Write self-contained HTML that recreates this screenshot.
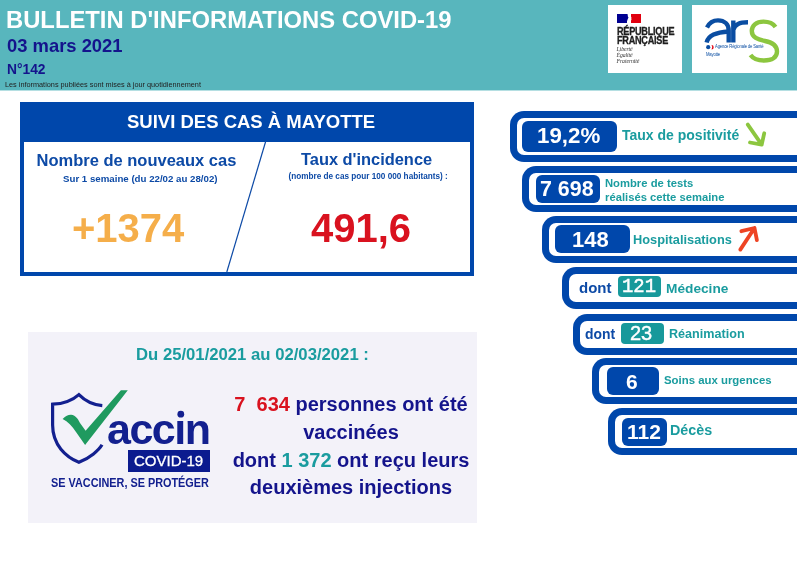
<!DOCTYPE html>
<html><head><meta charset="utf-8">
<style>
*{margin:0;padding:0;box-sizing:border-box}
html,body{width:797px;height:563px;overflow:hidden;background:#fff;-webkit-font-smoothing:antialiased;font-family:"Liberation Sans",sans-serif}
.abs{position:absolute}
#hdr{position:absolute;left:0;top:0;width:797px;height:90px;background:#58b6bd}
.t{position:absolute;white-space:nowrap;font-weight:bold;line-height:1}
.logo{position:absolute;background:#fff}
#suivi{position:absolute;left:20px;top:102px;width:454px;height:174px;border:4px solid #0047ab;border-top:0;background:#fff}
#suivi .bar{position:absolute;left:-4px;top:0;width:454px;height:40px;background:#0047ab}
.pill{position:absolute;border:7px solid #0047ab;border-right:0;border-radius:14px 0 0 14px;width:400px;background:#fff}
.box{position:absolute;background:#0047ab;border-radius:6px;color:#fff;font-weight:bold;text-align:center;line-height:1}
.badge{position:absolute;background:#17999b;border-radius:4px;color:#fff;font-weight:bold;text-align:center;line-height:1}
.lbl{position:absolute;white-space:nowrap;font-weight:bold;color:#1a9c9f;line-height:1}
</style></head><body><div style="position:absolute;left:0;top:0;width:797px;height:563px;will-change:transform">
<div id="hdr"></div><div class="abs" style="left:0;top:90px;width:797px;height:1px;background:#b5dfe2"></div>
<div class="t" style="left:6px;top:8px;font-size:23.8px;color:#fff">BULLETIN D'INFORMATIONS COVID-19</div>
<div class="t" style="left:7px;top:37px;font-size:18.4px;color:#14148c">03 mars 2021</div>
<div class="t" style="left:7px;top:62.5px;font-size:13.8px;color:#14148c">N°142</div>
<div class="t" style="left:5px;top:81px;font-size:7.3px;color:#222;font-weight:normal">Les informations publiées sont mises à jour quotidiennement</div>
<div class="logo" style="left:608px;top:5px;width:74px;height:68px"></div>
<div class="logo" style="left:692px;top:5px;width:95px;height:68px"></div>

<div id="suivi"><div class="bar"></div></div>
<div class="t" style="left:127px;top:113px;font-size:18.5px;color:#fff">SUIVI DES CAS À MAYOTTE</div>
<div class="t" style="left:36.5px;top:152px;font-size:16.5px;color:#0d4aa6">Nombre de nouveaux cas</div>
<div class="t" style="left:63px;top:174px;font-size:9.7px;color:#0d4aa6">Sur 1 semaine (du 22/02 au 28/02)</div>
<div class="t" style="left:301px;top:151px;font-size:16.4px;color:#0d4aa6">Taux d'incidence</div>
<div class="t" style="left:288.5px;top:172.7px;font-size:8.2px;color:#0d4aa6">(nombre de cas pour 100 000 habitants) :</div>
<div class="t" style="left:72px;top:208px;font-size:40px;color:#f5ae4a">+1374</div>
<div class="t" style="left:311px;top:208px;font-size:40px;color:#d9121f">491,6</div>
<svg class="abs" style="left:0;top:0" width="797" height="563"><line x1="265.8" y1="141" x2="226.8" y2="272" stroke="#0d4aa6" stroke-width="1.2"/></svg>

<div class="abs" style="left:28px;top:332px;width:449px;height:191px;background:#f3f2f9"></div>
<div class="t" style="left:136px;top:347px;font-size:16.7px;color:#1a9c9f">Du 25/01/2021 au 02/03/2021 :</div>
<div class="t" style="left:0;width:702px;text-align:center;top:391px;font-size:20px;color:#14148c;line-height:27.8px">
<span style="color:#d9121f">7&nbsp; 634</span> personnes ont été<br>vaccinées<br>dont <span style="color:#1a9c9f">1 372</span> ont reçu leurs<br>deuxièmes injections</div>

<div class="pill" style="left:510px;top:111px;height:51px"></div>
<div class="box" style="left:522px;top:121px;width:95px;height:31px"></div>
<div class="t" style="left:537px;top:125px;font-size:22.3px;color:#fff">19,2%</div>
<div class="lbl" style="left:622px;top:128px;font-size:14px">Taux de positivité</div>

<div class="pill" style="left:522px;top:166px;height:46px"></div>
<div class="box" style="left:536px;top:175px;width:64px;height:28px"></div>
<div class="t" style="left:540px;top:179px;font-size:21.4px;color:#fff">7 698</div>
<div class="lbl" style="left:605px;top:176px;font-size:11.25px;line-height:14px">Nombre de tests<br>réalisés cette semaine</div>

<div class="pill" style="left:542px;top:216px;height:47px"></div>
<div class="box" style="left:555px;top:225px;width:75px;height:28px"></div>
<div class="t" style="left:572px;top:229px;font-size:22px;color:#fff">148</div>
<div class="lbl" style="left:633px;top:234px;font-size:12.8px">Hospitalisations</div>

<div class="pill" style="left:562px;top:267px;height:42px"></div>
<div class="t" style="left:579px;top:280px;font-size:15px;color:#0d4aa6">dont</div>
<div class="badge" style="left:618px;top:276px;width:43px;height:21px"></div>
<div class="t" style="left:621.5px;top:275.5px;font-size:21px;color:#fff;font-weight:normal;font-family:'Liberation Mono',monospace;-webkit-text-stroke:0.5px #fff;transform:scaleX(0.9);transform-origin:0 0">121</div>
<div class="lbl" style="left:666px;top:282px;font-size:13.7px">Médecine</div>

<div class="pill" style="left:573px;top:314px;height:41px"></div>
<div class="t" style="left:585px;top:327.5px;font-size:13.9px;color:#0d4aa6">dont</div>
<div class="badge" style="left:621px;top:323px;width:43px;height:21px"></div>
<div class="t" style="left:630px;top:323px;font-size:20px;color:#fff;font-weight:normal;-webkit-text-stroke:0.4px #fff">23</div>
<div class="lbl" style="left:669px;top:328px;font-size:12.6px">Réanimation</div>

<div class="pill" style="left:592px;top:358px;height:46px"></div>
<div class="box" style="left:607px;top:367px;width:52px;height:28px"></div>
<div class="t" style="left:626px;top:371px;font-size:21px;color:#fff">6</div>
<div class="lbl" style="left:664px;top:375px;font-size:11.4px">Soins aux urgences</div>

<div class="pill" style="left:608px;top:408px;height:47px"></div>
<div class="box" style="left:622px;top:418px;width:45px;height:28px"></div>
<div class="t" style="left:627px;top:421px;font-size:21px;color:#fff">112</div>
<div class="lbl" style="left:670px;top:423px;font-size:14.3px">Décès</div>
<svg class="abs" style="left:0;top:0" width="797" height="563">
<g fill="none" stroke-linecap="round" stroke-linejoin="round" stroke-width="3.8">
<path d="M747.8,124.6 L761.7,144.6 M764.2,133.3 L761.7,144.6 L750,142.5" stroke="#8cc63f"/>
<path d="M740.3,249.6 L754.5,228 M741.4,231.2 L754.5,228 L756.9,240.2" stroke="#ee4424"/>
</g></svg>
<div class="abs" style="left:617px;top:14px;width:11px;height:9px;background:#000091"></div>
<div class="abs" style="left:631px;top:14px;width:10px;height:9px;background:#e1000f"></div>
<svg class="abs" style="left:625px;top:13px" width="9" height="11" viewBox="0 0 9 11"><path d="M2,0 L6.5,0 C5.5,1.5 5,2.5 6,3.5 C6.8,4.5 6,5.5 6.5,6.5 C6,8 5,9 3.5,11 L2,11 Z" fill="#fff"/><path d="M0,1 L2.5,1 C3,2.5 2.5,3.5 3.5,4.5 C2.5,6 2.5,7.5 1.5,9 L0,9Z" fill="#000091"/></svg>
<div class="t" style="left:616.5px;top:26.5px;font-size:10.4px;color:#1e1e1e;letter-spacing:-0.3px;line-height:9px;-webkit-text-stroke:0.3px #1e1e1e;transform:scaleX(0.88);transform-origin:0 0">RÉPUBLIQUE<br>FRANÇAISE</div>
<div class="t" style="left:616.5px;top:47.3px;font-size:5.8px;color:#333;font-family:'Liberation Serif',serif;font-style:italic;font-weight:normal;line-height:5.8px;letter-spacing:-0.1px">Liberté<br>Égalité<br>Fraternité</div>
<svg class="abs" style="left:0;top:0" width="797" height="563">
<g fill="none" stroke-width="4.4">
<path d="M707,27.5 C709.5,22.5 713.5,20.4 718,20.4 C724.5,20.4 728.7,24.5 728.7,30.5 L728.7,42.5" stroke="#0a4da2"/>
<path d="M728.7,31.5 C716,32.5 708.5,35 706.6,42.5" stroke="#0a4da2"/>
<path d="M733.3,42.5 L733.3,20.4 M733.3,30 C735,24 739.5,22.3 748,22.3" stroke="#0a4da2"/>
<path d="M775.5,27 C772.5,22.5 768,21.6 763.5,21.6 C756,21.6 751.8,25.8 751.8,31 C751.8,37.5 758,39.5 765,41 C772.5,42.5 777,45.5 777,51.5 C777,57.5 772,60.5 764,60.5 C758,60.5 753,58.5 750.5,55" stroke="#8cc63f"/>
</g>
<circle cx="708.2" cy="47.2" r="2.1" fill="#0a4da2"/>
<path d="M711.5,45 A2.2,2.2 0 0 1 711.5,49.4 A3.5,3.5 0 0 0 711.5,45Z" fill="#e1000f"/>
</svg>
<div class="t" style="left:715px;top:44.3px;font-size:5.8px;color:#0a4da2;font-weight:normal;letter-spacing:-0.2px;transform:scaleX(0.72);transform-origin:0 0">Agence Régionale de Santé</div>
<div class="t" style="left:706px;top:51.8px;font-size:5.6px;color:#0a4da2;font-weight:normal;letter-spacing:-0.2px;transform:scaleX(0.75);transform-origin:0 0">Mayotte</div>
<svg class="abs" style="left:0;top:0" width="797" height="563">
<path d="M102.3,405.6 C93,404.8 85,400.8 78.9,394.6 C72,400.8 63,403.8 52.6,404.2 L52.6,425 C52.6,445 66,457 78.9,462.3 C90,458 99,450 102,444.8" fill="none" stroke="#13208f" stroke-width="3.2"/>
<path d="M62.6,419 C66,415.5 68.5,414.6 71.3,414.8 C75,415.2 77.5,418 80,423 L85.6,430.8 L120.9,390.2 L127.8,390.2 L85.1,445 L76,432 C72,426 68,421.5 62.6,419Z" fill="#1f9a5f"/>
</svg>
<div class="t" style="left:107px;top:407.5px;font-size:43px;color:#13208f;letter-spacing:-1.5px">acc&#305;n</div>
<svg class="abs" style="left:0;top:0" width="797" height="563"><circle cx="180.8" cy="414.2" r="3.4" fill="#13208f"/></svg>
<div class="abs" style="left:128px;top:450px;width:82px;height:22px;background:#0b1b8f"></div>
<div class="t" style="left:134px;top:453px;font-size:15px;color:#fff;font-weight:normal;-webkit-text-stroke:0.3px #fff">COVID-19</div>
<div class="t" style="left:51px;top:477px;font-size:12px;color:#13208f;transform:scaleX(0.905);transform-origin:0 0">SE VACCINER, SE PROTÉGER</div>
</div></body></html>
